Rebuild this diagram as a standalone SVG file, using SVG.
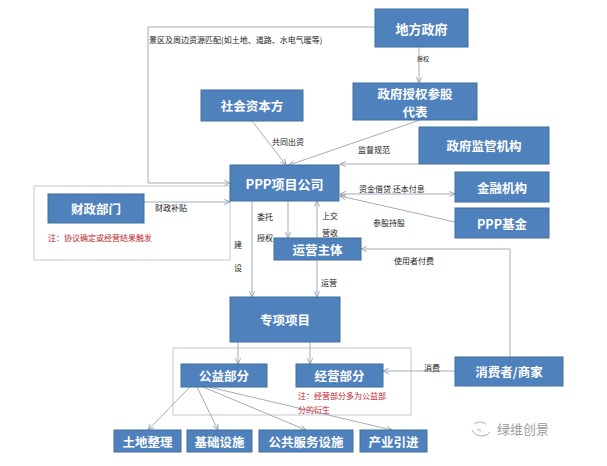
<svg xmlns="http://www.w3.org/2000/svg" width="607" height="466" viewBox="0 0 607 466">
<defs>
<marker id="arr" viewBox="0 0 8 8" refX="7.5" refY="4" markerWidth="7" markerHeight="7" markerUnits="userSpaceOnUse" orient="auto-start-reverse">
<path d="M1,1 L7.5,4 L1,7" fill="none" stroke="#8f9bb0" stroke-width="1"/>
</marker>
<style>
.box{fill:#4f81bd;stroke:#41719c;stroke-width:1}
.bt{font-family:"Noto Sans CJK SC","Noto Sans",sans-serif;font-weight:bold;fill:#fff;text-anchor:middle;dominant-baseline:central}
.frame{fill:none;stroke:#c4c8d0;stroke-width:1}
.ln{fill:none;stroke:#a3acbc;stroke-width:1}
.lb{font-family:"Noto Sans CJK SC","Noto Sans",sans-serif;font-size:8px;fill:#222}
.note{font-family:"Noto Sans CJK SC","Noto Sans",sans-serif;font-size:8px;fill:#c0262d}
</style>
</defs>
<rect width="607" height="466" fill="#fff"/>

<g id="frames">
<rect class="frame" x="34" y="186" width="196" height="74"/>
<rect class="frame" x="173" y="348" width="238" height="67"/>
</g>

<g id="connectors">
<line class="ln" x1="419" y1="47" x2="419" y2="83" marker-end="url(#arr)"/>
<polyline class="ln" points="375,27 148,27 148,183 230,183" marker-end="url(#arr)"/>
<line class="ln" x1="252" y1="121" x2="286" y2="165" marker-end="url(#arr)"/>
<line class="ln" x1="420" y1="120" x2="289" y2="165" marker-end="url(#arr)"/>
<line class="ln" x1="419" y1="164" x2="340" y2="164" marker-end="url(#arr)"/>
<line class="ln" x1="340" y1="194" x2="455" y2="194" marker-start="url(#arr)" marker-end="url(#arr)"/>
<line class="ln" x1="455" y1="222" x2="340" y2="196" marker-end="url(#arr)"/>
<line class="ln" x1="144" y1="202" x2="230" y2="202" marker-end="url(#arr)"/>
<line class="ln" x1="288" y1="201" x2="288" y2="238" marker-end="url(#arr)"/>
<line class="ln" x1="317" y1="238" x2="317" y2="201" marker-end="url(#arr)"/>
<line class="ln" x1="317" y1="260" x2="317" y2="297" marker-end="url(#arr)"/>
<line class="ln" x1="252" y1="201" x2="252" y2="297" marker-end="url(#arr)"/>
<polyline class="ln" points="510,357 510,249 361,249" marker-end="url(#arr)"/>
<line class="ln" x1="455" y1="371" x2="383" y2="371" marker-end="url(#arr)"/>
<line class="ln" x1="238" y1="342" x2="238" y2="364" marker-end="url(#arr)"/>
<line class="ln" x1="310" y1="342" x2="310" y2="364" marker-end="url(#arr)"/>
<line class="ln" x1="190" y1="387" x2="148" y2="430" marker-end="url(#arr)"/>
<line class="ln" x1="197" y1="387" x2="218" y2="430" marker-end="url(#arr)"/>
<line class="ln" x1="203" y1="387" x2="306" y2="430" marker-end="url(#arr)"/>
<line class="ln" x1="209" y1="387" x2="392" y2="430" marker-end="url(#arr)"/>
</g>

<g id="labels">
<text class="lb" x="149" y="43">景区及周边资源匹配(如土地、道路、水电气暖等)</text>
<text class="lb" x="417" y="61" style="font-size:6px">授权</text>
<text class="lb" x="272" y="145">共同出资</text>
<text class="lb" x="358" y="153">监督规范</text>
<text class="lb" x="359" y="192">资金借贷 还本付息</text>
<text class="lb" x="373" y="226">参股持股</text>
<text class="lb" x="155" y="211">财政补贴</text>
<text class="note" x="48" y="241">注：协议确定或经营结果触发</text>
<text class="lb" x="257" y="220">委托</text>
<text class="lb" x="257" y="241">授权</text>
<text class="lb" x="322" y="219">上交</text>
<text class="lb" x="322" y="235.5">营收</text>
<text class="lb" x="234" y="248">建</text>
<text class="lb" x="234" y="271">设</text>
<text class="lb" x="321" y="286">运营</text>
<text class="lb" x="394" y="264">使用者付费</text>
<text class="lb" x="424" y="371">消费</text>
<text class="note" x="298" y="399">注：经营部分多为公益部</text>
<text class="note" x="298" y="413">分的衍生</text>
</g>

<g id="n-dfzf"><rect class="box" x="375" y="9" width="93" height="38"/><text class="bt" x="421.5" y="28" font-size="13">地方政府</text></g>
<g id="n-zfsq"><rect class="box" x="353" y="83" width="124" height="37"/><text class="bt" x="415" y="93" font-size="12.5">政府授权参股</text><text class="bt" x="415" y="111" font-size="12.5">代表</text></g>
<g id="n-shzb"><rect class="box" x="201" y="90" width="102" height="31"/><text class="bt" x="252" y="105.5" font-size="12.5">社会资本方</text></g>
<g id="n-zfjg"><rect class="box" x="419" y="127" width="130" height="37"/><text class="bt" x="484" y="145.5" font-size="12.5">政府监管机构</text></g>
<g id="n-jrjg"><rect class="box" x="455" y="172" width="94" height="30"/><text class="bt" x="502" y="187" font-size="12.5">金融机构</text></g>
<g id="n-pppjj"><rect class="box" x="455" y="208" width="94" height="30"/><text class="bt" x="502" y="223" font-size="12.5">PPP基金</text></g>
<g id="n-ppp"><rect class="box" x="230" y="165" width="109" height="36"/><text class="bt" x="284.5" y="183" font-size="13">PPP项目公司</text></g>
<g id="n-yyzt"><rect class="box" x="274" y="238" width="87" height="22"/><text class="bt" x="317.5" y="249" font-size="12.5">运营主体</text></g>
<g id="n-czbm"><rect class="box" x="48" y="194" width="96" height="29"/><text class="bt" x="96" y="208.5" font-size="12.5">财政部门</text></g>
<g id="n-zxxm"><rect class="box" x="230" y="297" width="110" height="45"/><text class="bt" x="285" y="319.5" font-size="12.5">专项项目</text></g>
<g id="n-gybf"><rect class="box" x="181" y="364" width="86" height="23"/><text class="bt" x="224" y="375.5" font-size="12.5">公益部分</text></g>
<g id="n-jybf"><rect class="box" x="296" y="364" width="87" height="23"/><text class="bt" x="339.5" y="375.5" font-size="12.5">经营部分</text></g>
<g id="n-xfz"><rect class="box" x="455" y="357" width="108" height="29"/><text class="bt" x="509" y="371.5" font-size="12.5">消费者/商家</text></g>
<g id="n-tdzl"><rect class="box" x="114" y="430" width="67" height="22"/><text class="bt" x="147.5" y="441" font-size="12.5">土地整理</text></g>
<g id="n-jcss"><rect class="box" x="187" y="430" width="65" height="22"/><text class="bt" x="219.5" y="441" font-size="12.5">基础设施</text></g>
<g id="n-ggfw"><rect class="box" x="259" y="430" width="94" height="22"/><text class="bt" x="306" y="441" font-size="12.5">公共服务设施</text></g>
<g id="n-cyyj"><rect class="box" x="360" y="430" width="67" height="22"/><text class="bt" x="393.5" y="441" font-size="12.5">产业引进</text></g>

<g id="watermark">
<path d="M474,424 q6,-4 12,0 M472,430 q3,6 10,6 q6,0 8,-4 M477,429 l4,2" fill="none" stroke="#b0b0b0" stroke-width="1"/>
<text x="497" y="434" font-family="Noto Sans CJK SC, sans-serif" font-size="13" fill="#9a9a9a">绿维创景</text>
</g>
</svg>
